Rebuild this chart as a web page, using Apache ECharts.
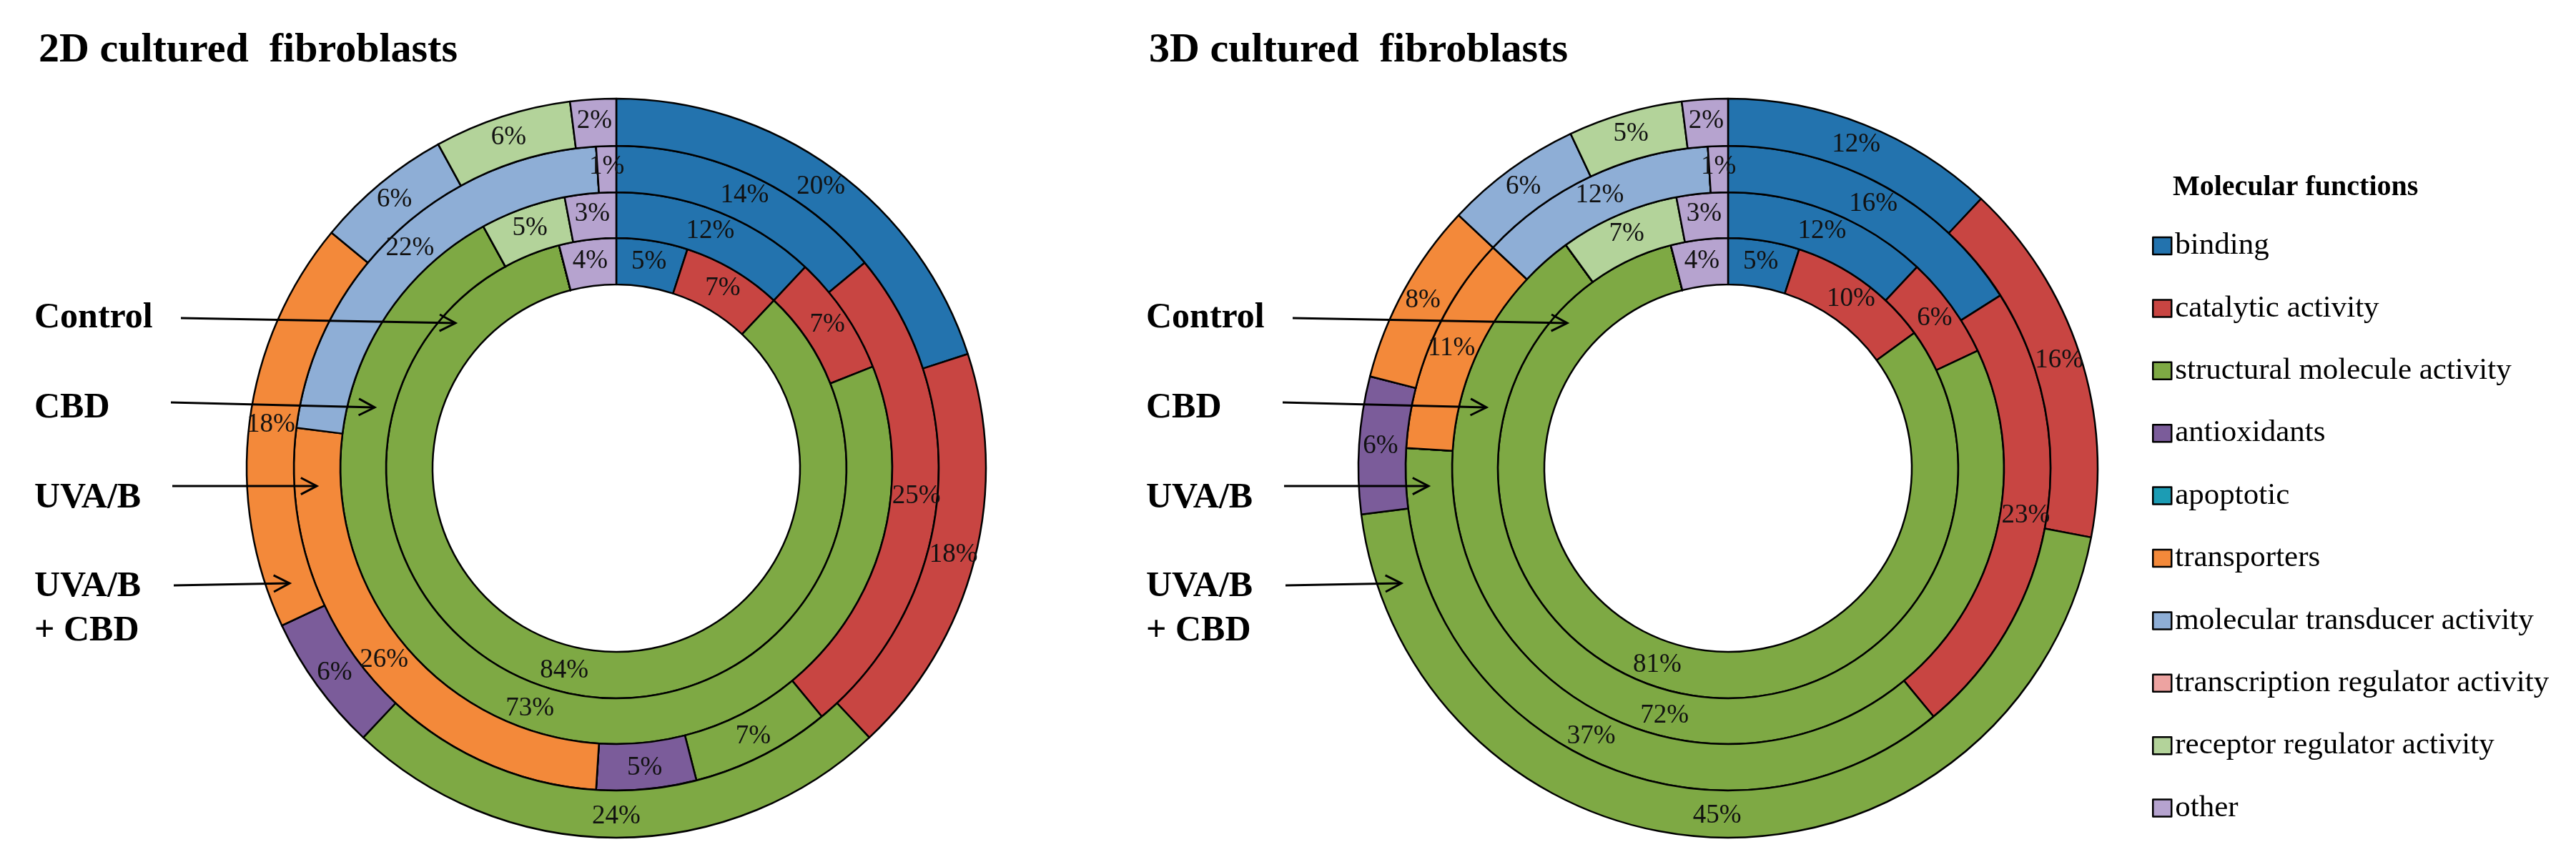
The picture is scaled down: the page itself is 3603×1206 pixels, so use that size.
<!DOCTYPE html>
<html><head><meta charset="utf-8">
<script src="https://cdn.jsdelivr.net/npm/echarts@6/dist/echarts.min.js"></script>
<style>html,body{margin:0;padding:0;background:#fff}#c{width:3603px;height:1206px}</style>
</head><body><div id="c"></div>
<script>
// ---- data ----
const categories = ['binding','catalytic activity','structural molecule activity','antioxidants','apoptotic','transporters','molecular transducer activity','transcription regulator activity','receptor regulator activity','other'];
const colors = ['#2373AE','#C84542','#7EA944','#7B5C9A','#1C9CB4','#F3893A','#8EAED6','#EDA3A1','#B3D39A','#B6A3CF'];
const ringNames = ['Control','CBD','UVA/B','UVA/B + CBD'];
const titles = ['2D cultured  fibroblasts','3D cultured  fibroblasts'];
// 2D cultured fibroblasts (% per category, inner ring -> outer ring)
const control2D   = [5, 7, 84, 0, 0, 0, 0, 0, 0, 4];
const cbd2D       = [12, 7, 73, 0, 0, 0, 0, 0, 5, 3];
const uvab2D      = [14, 25, 7, 5, 0, 26, 22, 0, 0, 1];
const uvabCbd2D   = [20, 18, 24, 6, 0, 18, 6, 0, 6, 2];
// 3D cultured fibroblasts
const control3D   = [5, 10, 81, 0, 0, 0, 0, 0, 0, 4];
const cbd3D       = [12, 6, 72, 0, 0, 0, 0, 0, 7, 3];
const uvab3D      = [16, 23, 37, 0, 0, 11, 12, 0, 0, 1];
const uvabCbd3D   = [12, 16, 45, 6, 0, 8, 6, 0, 5, 2];

const panels = [[control2D, cbd2D, uvab2D, uvabCbd2D],[control3D, cbd3D, uvab3D, uvabCbd3D]];

// ---- layout ----
const FONT = '"Liberation Serif","Times New Roman",serif';
const centers = [[862, 655],[2417, 655]];
const radii = [[257,322],[322,386],[386,451],[451,517]];
const panelDx = 1555;

const series = [];
panels.forEach((rings, p) => {
  rings.forEach((vals, r) => {
    series.push({
      type: 'pie',
      name: titles[p] + ' - ' + ringNames[r],
      center: centers[p],
      radius: radii[r],
      startAngle: 90,
      clockwise: true,
      avoidLabelOverlap: false,
      animation: false,
      silent: true,
      itemStyle: { borderColor: '#000', borderWidth: 2.5 },
      label: {
        show: true, position: 'inside', formatter: '{c}%',
        color: '#111', fontFamily: FONT, fontSize: 37, textBorderWidth: 0
      },
      labelLine: { show: false },
      emphasis: { disabled: true },
      data: categories.map((c, i) => ({
        name: c, value: vals[i],
        itemStyle: { color: colors[i] },
        label: { show: vals[i] > 0 }
      }))
    });
  });
});

// ---- annotations ----
const graphic = [];
function text(x, y, s, size, bold) {
  graphic.push({ type: 'text', x: x, y: y, silent: true, z: 100,
    style: { text: s, fill: '#000', font: (bold ? 'bold ' : '') + size + 'px ' + FONT, textAlign: 'left', textVerticalAlign: 'middle' } });
}
function arrow(x1, y1, x2, y2) {
  const st = { stroke: '#000', lineWidth: 3 };
  graphic.push({ type: 'line', silent: true, z: 100, shape: { x1, y1, x2, y2 }, style: st });
  const a = Math.atan2(y2 - y1, x2 - x1), L = 25, w = 0.48;
  graphic.push({ type: 'polyline', silent: true, z: 100, shape: { points: [
    [x2 - L * Math.cos(a - w), y2 - L * Math.sin(a - w)], [x2, y2],
    [x2 - L * Math.cos(a + w), y2 - L * Math.sin(a + w)] ] }, style: Object.assign({ fill: null }, st) });
}
const arrows = [[253,445,637,452],[239,563,524,570],[241,680,443,680],[243,819,405,816]];
const ringLabelPos = [[48,445],[48,571],[48,697],[48,821]];
for (let p = 0; p < 2; p++) {
  const dx = p * panelDx;
  text(54 + dx - (p ? 2 : 0), 71, titles[p], 58, true);
  ringNames.forEach((n, i) => {
    if (i < 3) text(ringLabelPos[i][0] + dx, ringLabelPos[i][1], n, 50, true);
    else { text(ringLabelPos[i][0] + dx, ringLabelPos[i][1], 'UVA/B', 50, true); text(ringLabelPos[i][0] + dx, ringLabelPos[i][1] + 62, '+ CBD', 50, true); }
  });
  arrows.forEach(a => arrow(a[0] + dx, a[1], a[2] + dx, a[3]));
}
text(3039, 263, 'Molecular functions', 40, true);

const chart = echarts.init(document.getElementById('c'));
chart.setOption({
  backgroundColor: '#fff',
  animation: false,
  legend: {
    data: categories, orient: 'vertical', left: 3005, top: 317,
    itemWidth: 26, itemHeight: 24, itemGap: 43.4, selectedMode: false,
    icon: 'rect',
    itemStyle: { borderColor: '#000', borderWidth: 2.5 },
    textStyle: { fontFamily: FONT, fontSize: 43, color: '#000', lineHeight: 44 }
  },
  series: series,
  graphic: { elements: graphic }
});
</script></body></html>
